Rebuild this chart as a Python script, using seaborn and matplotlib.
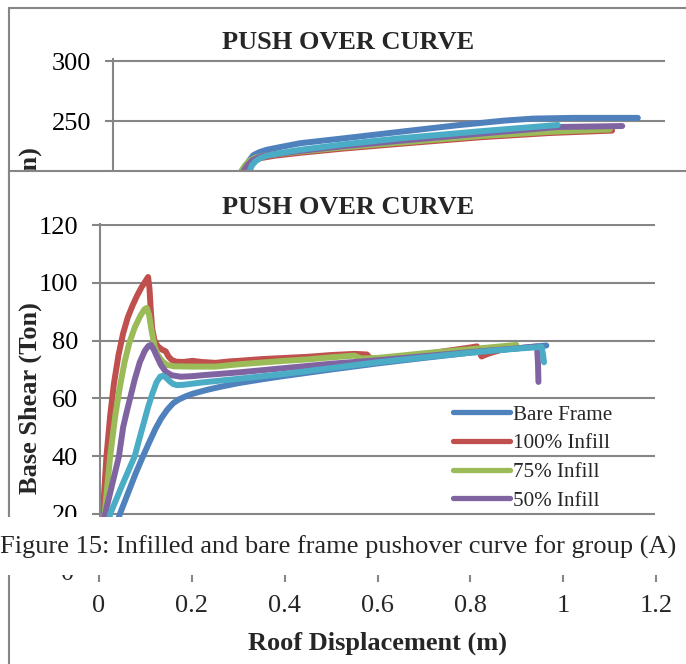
import numpy as np
import pandas as pd
import matplotlib
matplotlib.use("Agg")
import matplotlib.pyplot as plt
from matplotlib.patches import Rectangle
import seaborn as sns

# ---- series names and colours (Excel 2007 palette) ----
series = ["Bare Frame", "100% Infill", "75% Infill", "50% Infill", "25% Infill"]
colors = ["#4F81BD", "#C0504D", "#9BBB59", "#8064A2", "#4BACC6"]

# ---- upper chart: roof displacement (m) / base shear (Ton) ----
top_bare_x = [0, 0.285, 0.29, 0.296, 0.305, 0.318, 0.334, 0.36, 0.407, 0.5, 0.624,
              0.75, 0.85, 0.913, 1.0, 1.141]
top_bare_y = [0, 209, 213, 217, 221.5, 224, 226, 228, 231.5, 235.5, 241,
              246.5, 250.3, 252, 252.6, 252.6]
top_100_x = [0, 0.29, 0.296, 0.305, 0.32, 0.35, 0.407, 0.5, 0.624, 0.8, 0.95, 1.085]
top_100_y = [0, 209, 213, 216.5, 219, 221, 223.5, 227, 231, 236.5, 240, 242]
top_75_x = [0, 0.28, 0.287, 0.297, 0.31, 0.334, 0.407, 0.5, 0.624, 0.8, 0.95, 1.08]
top_75_y = [0, 209, 213, 217, 219.5, 221.5, 224.5, 228, 232, 237.5, 241, 243]
top_50_x = [0, 0.285, 0.292, 0.302, 0.315, 0.334, 0.407, 0.5, 0.624, 0.8, 0.967, 1.107]
top_50_y = [0, 209, 213, 217, 219.5, 221.5, 225, 229, 233.5, 239.5, 245, 245.8]
top_25_x = [0, 0.298, 0.302, 0.31, 0.32, 0.334, 0.36, 0.407, 0.5, 0.624, 0.8, 0.967]
top_25_y = [0, 209, 213, 216.5, 219, 221, 223, 226, 230.5, 235.6, 241.5, 246.7]

# ---- lower chart: roof displacement (m) / base shear (Ton) ----
bare_x = [0, 0.02, 0.043, 0.06, 0.077, 0.093, 0.107, 0.12, 0.132, 0.145, 0.158, 0.17,
          0.185, 0.2, 0.23, 0.26, 0.3, 0.35, 0.4, 0.5, 0.6, 0.7, 0.8, 0.9, 0.965]
bare_y = [0, 9, 20, 27, 34, 40, 45, 49.5, 53, 56, 58.3, 59.6,
          60.7, 61.6, 62.9, 64, 65.3, 66.6, 67.8, 70, 72.1, 74, 75.8, 77.3, 78.3]
inf100_x = [0, 0.006, 0.014, 0.022, 0.03, 0.04, 0.05, 0.06, 0.07, 0.08, 0.09, 0.1,
            0.104, 0.107, 0.11, 0.113, 0.118, 0.125, 0.135, 0.142, 0.148, 0.155,
            0.165, 0.18, 0.2, 0.22, 0.25, 0.28, 0.3, 0.35, 0.4, 0.45, 0.5, 0.55,
            0.577, 0.585, 0.6, 0.7, 0.8, 0.815, 0.825, 0.84, 0.9]
inf100_y = [0, 20, 40, 54, 65, 75, 82.5, 88, 92, 95.5, 98.5, 101,
            102, 98, 90, 84, 80, 78, 76.8, 76.3, 74.5, 73.3,
            72.7, 72.6, 73, 72.6, 72.3, 72.8, 73, 73.6, 74, 74.4, 75, 75.4,
            75.2, 73.8, 73.6, 75.3, 77.6, 78, 74.5, 75.5, 78.3]
inf75_x = [0, 0.01, 0.022, 0.033, 0.043, 0.053, 0.063, 0.075, 0.087, 0.096, 0.101,
           0.106, 0.112, 0.118, 0.125, 0.135, 0.145, 0.16, 0.2, 0.25, 0.3, 0.35,
           0.4, 0.45, 0.5, 0.55, 0.565, 0.6, 0.7, 0.8, 0.9]
inf75_y = [0, 20, 40, 54, 64, 72.5, 79, 84.5, 88.5, 90.8, 91.3,
           89, 83, 78, 75, 72.8, 71.6, 71.1, 71, 71, 71.8, 72.4,
           73, 73.5, 74.2, 74.8, 73.8, 74, 75.6, 77, 78.5]
inf50_x = [0, 0.011, 0.026, 0.041, 0.05, 0.058, 0.065, 0.075, 0.086, 0.097, 0.105,
           0.11, 0.116, 0.123, 0.132, 0.142, 0.155, 0.175, 0.2, 0.22, 0.3, 0.4, 0.5,
           0.6, 0.7, 0.8, 0.9, 0.945, 0.947, 0.948]
inf50_y = [0, 20, 30, 40, 50, 55.5, 60, 66.5, 72.5, 76.5, 78.2,
           78.5, 77, 74.5, 71.5, 69.3, 68, 67.5, 67.7, 68, 69, 70.5, 72,
           73.2, 74.6, 76, 77.3, 78, 72, 65.7]
inf25_x = [0, 0.022, 0.048, 0.075, 0.092, 0.104, 0.113, 0.122, 0.13, 0.135, 0.142,
           0.15, 0.158, 0.166, 0.18, 0.2, 0.22, 0.3, 0.4, 0.5, 0.6, 0.7, 0.8, 0.9,
           0.955, 0.958, 0.96]
inf25_y = [0, 20, 30, 40, 50, 57, 61.5, 65.5, 67.5, 67.8, 67.3,
           66, 65, 64.6, 64.7, 65.1, 65.5, 66.8, 68.5, 70.5, 72.5, 74.2, 75.8, 77.2,
           77.8, 75, 72.5]

x_ticks = [0, 0.2, 0.4, 0.6, 0.8, 1.0, 1.2]
x_tick_labels = ["0", "0.2", "0.4", "0.6", "0.8", "1", "1.2"]
top_y_ticks = [0, 50, 100, 150, 200, 250, 300]
top_y_labels = ["", "", "", "", "", "250", "300"]
low_y_ticks = [20, 40, 60, 80, 100, 120]
low_y_labels = ["20", "40", "60", "80", "100", "120"]

title_text = "PUSH OVER CURVE"
ylabel_text = "Base Shear (Ton)"
xlabel_text = "Roof Displacement (m)"
caption_text = "Figure 15: Infilled and bare frame pushover curve for group (A)"

sns.set_theme(style="white")
plt.rcParams["font.family"] = ["Liberation Serif", "DejaVu Serif"]

W, H = 686, 664
fig = plt.figure(figsize=(W / 100, H / 100), dpi=100)
fig.patch.set_facecolor("white")

GRID = "#868686"
LW_GRID = 1.5
LW_SERIES = 4.3
FS = 19


def box(l, t, r, b):
    return [l / W, 1 - b / H, (r - l) / W, (b - t) / H]


def fx(px):
    return px / W


def fy(py):
    return 1 - py / H


def draw_series(ax, xs, ys, label, color):
    df = pd.DataFrame({"x": xs, "y": ys})
    sns.lineplot(data=df, x="x", y="y", ax=ax, color=color, linewidth=LW_SERIES,
                 estimator=None, sort=False, label=label, legend=False,
                 solid_capstyle="round", solid_joinstyle="round")


def style_value_axis(ax, ticks, labels):
    ax.set_yticks(ticks)
    ax.set_yticklabels(labels)
    ax.yaxis.grid(True, color=GRID, linewidth=LW_GRID)
    ax.xaxis.grid(False)
    for side in ["top", "right", "bottom"]:
        ax.spines[side].set_visible(False)
    ax.spines["left"].set_color(GRID)
    ax.spines["left"].set_linewidth(LW_GRID)
    ax.tick_params(axis="y", left=True, length=5.8, width=LW_GRID, color=GRID,
                   labelsize=FS, pad=10, labelcolor="black")
    ax.tick_params(axis="x", bottom=False, labelbottom=False)
    ax.set_xlabel("")
    ax.set_ylabel("")
    ax.patch.set_alpha(0)


# ---------- background chart ----------
fig.add_artist(Rectangle((fx(9), fy(800)), 2, (800 - 8) / H, transform=fig.transFigure,
                         facecolor="none", edgecolor=GRID, linewidth=LW_GRID, zorder=0.5))
fig.text(fx(348), fy(42.5), title_text, ha="center", va="center", fontsize=FS,
         fontweight="bold", zorder=0.6)
bg_ylabel = fig.text(fx(30), fy(243.5), ylabel_text, ha="center", va="center",
                     rotation=90, fontsize=FS, fontweight="bold", zorder=0.6)
bg_clip = Rectangle((0, fy(171)), 1, 171 / H, transform=fig.transFigure)
bg_ylabel.set_clip_path(bg_clip)

ax_top = fig.add_axes(box(113, 61 - 2 * 1.2, 665, 421))
ax_top.set_zorder(0)
top_sets = [(top_bare_x, top_bare_y), (top_100_x, top_100_y), (top_75_x, top_75_y),
            (top_50_x, top_50_y), (top_25_x, top_25_y)]
for (xs, ys), name, c in zip(top_sets, series, colors):
    draw_series(ax_top, xs, ys, name, c)
ax_top.set_xlim(0, 1.2)
ax_top.set_ylim(0, 302)
style_value_axis(ax_top, top_y_ticks, top_y_labels)

ax_bot = fig.add_axes(box(99, 430, 656, 572))
ax_bot.set_zorder(0)
ax_bot.set_xlim(0, 1.2)
ax_bot.set_ylim(0, 1)
ax_bot.set_xticks(x_ticks)
ax_bot.set_xticklabels(x_tick_labels)
ax_bot.set_yticks([0])
ax_bot.set_yticklabels(["0"])
for s in ax_bot.spines.values():
    s.set_visible(False)
ax_bot.grid(False)
ax_bot.patch.set_alpha(0)
ax_bot.tick_params(axis="x", bottom=True, length=7.2, width=LW_GRID, color=GRID,
                   labelsize=FS, pad=9.5)
ax_bot.tick_params(axis="y", left=True, length=5.8, width=LW_GRID, color=GRID,
                   labelsize=FS, pad=12)
ax_bot.set_xlabel(xlabel_text, fontsize=FS, fontweight="bold", labelpad=10)

# ---------- front chart ----------
fig.add_artist(Rectangle((fx(9), fy(540)), 2, (540 - 171) / H, transform=fig.transFigure,
                         facecolor="white", edgecolor=GRID, linewidth=LW_GRID, zorder=1))
fig.text(fx(348), fy(207.5), title_text, ha="center", va="center", fontsize=FS,
         fontweight="bold", zorder=1.5)
fig.text(fx(30), fy(398.5), ylabel_text, ha="center", va="center", rotation=90,
         fontsize=FS, fontweight="bold", zorder=1.5)

px_per = (514 - 225) / 100.0
y_low = 120 - (517 - 225) / px_per
ax_front = fig.add_axes(box(100, 225 - 0.5 * px_per, 655, 517))
ax_front.set_zorder(2)
front_sets = [(bare_x, bare_y), (inf100_x, inf100_y), (inf75_x, inf75_y),
              (inf50_x, inf50_y), (inf25_x, inf25_y)]
for (xs, ys), name, c in zip(front_sets, series, colors):
    draw_series(ax_front, xs, ys, name, c)
ax_front.set_xlim(0, 1.2)
ax_front.set_ylim(y_low, 120.5)
style_value_axis(ax_front, low_y_ticks, low_y_labels)
leg = ax_front.legend(loc="upper left", bbox_to_anchor=(fx(453), fy(405)),
                      bbox_transform=fig.transFigure, frameon=False, borderpad=0,
                      borderaxespad=0, handlelength=2.7, handletextpad=0.15,
                      labelspacing=0.42, fontsize=15.2)
for h in leg.get_lines():
    h.set_linewidth(3.8)
    h.set_solid_capstyle("round")

# ---------- caption band ----------
fig.add_artist(Rectangle((0, fy(575)), 1, (575 - 517) / H, transform=fig.transFigure,
                         facecolor="white", edgecolor="none", zorder=3))
fig.text(fx(0.5), fy(547), caption_text, ha="left", va="center", fontsize=FS, zorder=4)

fig.savefig("out.png", dpi=100)
